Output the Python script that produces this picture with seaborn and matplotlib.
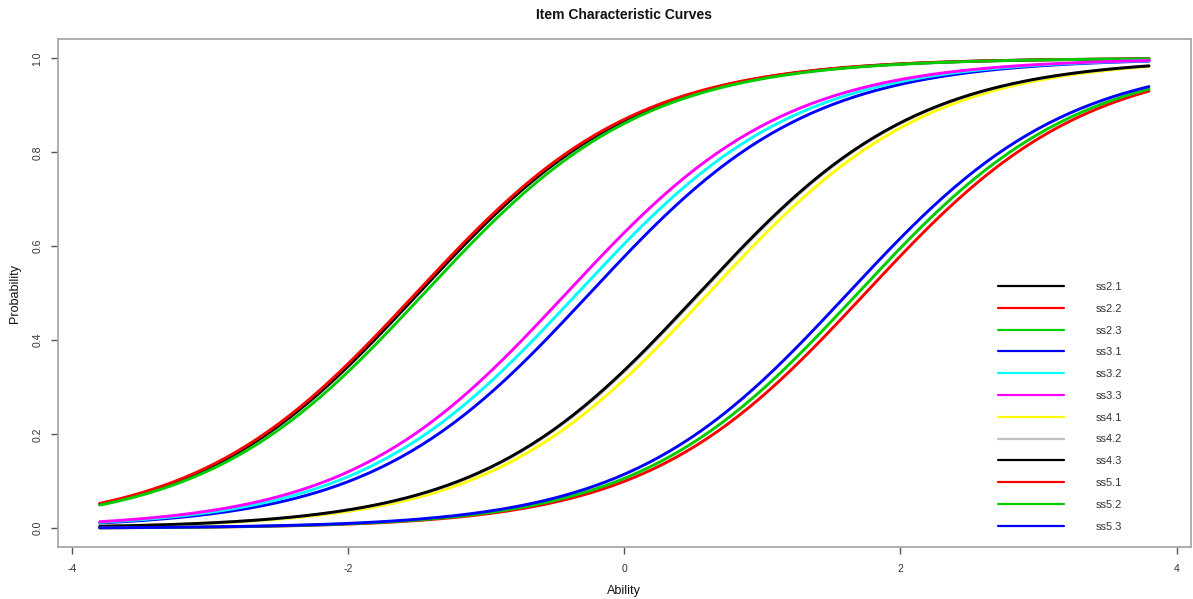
import numpy as np
import pandas as pd
import matplotlib
matplotlib.use("Agg")
import matplotlib.pyplot as plt
import seaborn as sns

# Rasch-type item parameters (common discrimination)
items = ["ss2.1", "ss2.2", "ss2.3", "ss3.1", "ss3.2", "ss3.3",
         "ss4.1", "ss4.2", "ss4.3", "ss5.1", "ss5.2", "ss5.3"]
difficulty = [-1.49, -1.51, -1.45, -0.25, -0.34, -0.42,
              0.61, 0.55, 0.54, 1.745, 1.69, 1.62]
discrimination = [1.26] * 12
colors = ["#000000", "#FF0000", "#00CD00", "#0000FF", "#00FFFF", "#FF00FF",
          "#FFFF00", "#BEBEBE", "#000000", "#FF0000", "#00CD00", "#0000FF"]
ability_range = (-3.8, 3.8)
x_ticks = [-4, -2, 0, 2, 4]
y_ticks = [0.0, 0.2, 0.4, 0.6, 0.8, 1.0]

theta = np.linspace(ability_range[0], ability_range[1], 200)
frames = []
for name, b, a in zip(items, difficulty, discrimination):
    p = 1.0 / (1.0 + np.exp(-a * (theta - b)))
    frames.append(pd.DataFrame({"Ability": theta, "Probability": p, "item": name}))
df = pd.concat(frames, ignore_index=True)

sns.set_style("white")
plt.rcParams["font.family"] = ["Liberation Sans", "DejaVu Sans"]

W, H = 1193, 599
fig = plt.figure(figsize=(W / 100, H / 100), dpi=100)
left, right, top, bottom = 57.7, 1191.0, 39.0, 547.3
ax = fig.add_axes([left / W, 1 - bottom / H, (right - left) / W, (bottom - top) / H])

sns.lineplot(data=df, x="Ability", y="Probability", hue="item",
             palette=dict(zip(items, colors)), hue_order=items,
             linewidth=2.1, legend=False, ax=ax, sort=False)

ax.set_xlim(-4.104, 4.104)
ax.set_ylim(-0.0405, 1.041)
ax.set_xticks(x_ticks)
ax.set_xticklabels([str(t) for t in x_ticks])
ax.set_yticks(y_ticks)
ax.set_yticklabels([f"{t:.1f}" for t in y_ticks], rotation=90, va="center")

for s in ax.spines.values():
    s.set_visible(True)
    s.set_color("#A8A8A8")
    s.set_linewidth(1.3)

ax.tick_params(axis="both", which="major", bottom=True, left=True,
               direction="out", length=5, width=1.0,
               color="#555555", labelsize=7.5, labelcolor="#333333")
ax.tick_params(axis="x", pad=7)
ax.tick_params(axis="y", pad=6)

ax.set_xlabel("Ability", fontsize=9, color="#111111", labelpad=8)
ax.set_ylabel("Probability", fontsize=9, color="#111111", labelpad=8)
fig.text(624 / W, 1 - 15 / H, "Item Characteristic Curves", ha="center", va="center",
         fontsize=10, fontweight="bold", color="#111111")

leg = ax.legend(ax.lines, items, loc="upper left",
                bbox_to_anchor=(998 / W, 1 - 282 / H), bbox_transform=fig.transFigure,
                frameon=False, fontsize=8, handlelength=5.9, handletextpad=2.9,
                labelspacing=1.06, borderpad=0, borderaxespad=0)
for t in leg.get_texts():
    t.set_color("#333333")
for h in leg.get_lines():
    h.set_linewidth(1.6)

fig.savefig("out.png", dpi=100)
